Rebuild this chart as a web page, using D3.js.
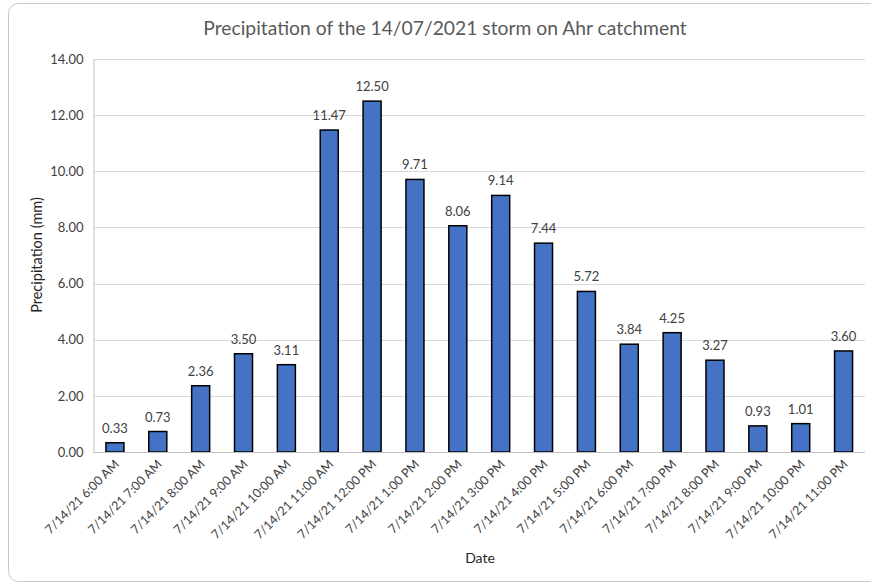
<!DOCTYPE html>
<html>
<head>
<meta charset="utf-8">
<script src="https://cdn.jsdelivr.net/npm/d3@7"></script>
<style>
  html, body { margin: 0; padding: 0; background: #fff; }
  svg { display: block; font-family: Lato, "Noto Sans", sans-serif; }
</style>
</head>
<body>
<svg id="chart" width="871" height="584"></svg>
<script>
// Hourly precipitation, 14 July 2021, Ahr catchment
const hours = [
  "7/14/21 6:00 AM", "7/14/21 7:00 AM", "7/14/21 8:00 AM", "7/14/21 9:00 AM",
  "7/14/21 10:00 AM", "7/14/21 11:00 AM", "7/14/21 12:00 PM", "7/14/21 1:00 PM",
  "7/14/21 2:00 PM", "7/14/21 3:00 PM", "7/14/21 4:00 PM", "7/14/21 5:00 PM",
  "7/14/21 6:00 PM", "7/14/21 7:00 PM", "7/14/21 8:00 PM", "7/14/21 9:00 PM",
  "7/14/21 10:00 PM", "7/14/21 11:00 PM"
];
const precipitation = [
  0.33, 0.73, 2.36, 3.50, 3.11, 11.47, 12.50, 9.71, 8.06,
  9.14, 7.44, 5.72, 3.84, 4.25, 3.27, 0.93, 1.01, 3.60
];
const yTicks = [0, 2, 4, 6, 8, 10, 12, 14];

const titleText = "Precipitation of the 14/07/2021 storm on Ahr catchment";
const xTitle = "Date";
const yTitle = "Precipitation (mm)";

const svg = d3.select("#chart");

// chart frame
svg.append("rect")
  .attr("x", 8.5).attr("y", 3.5)
  .attr("width", 880).attr("height", 578)
  .attr("rx", 10).attr("ry", 10)
  .attr("fill", "#fff")
  .attr("stroke", "#c8c8c8")
  .attr("stroke-width", 1);

const plot = { left: 93.5, right: 865, top: 59, bottom: 452 };

const x = d3.scaleBand()
  .domain(hours)
  .range([plot.left, plot.right])
  .paddingInner(0.58)
  .paddingOuter(0.29);

const y = d3.scaleLinear()
  .domain([0, 14])
  .range([plot.bottom, plot.top]);

// horizontal gridlines
svg.append("g")
  .selectAll("line")
  .data(yTicks)
  .join("line")
  .attr("x1", plot.left).attr("x2", plot.right)
  .attr("y1", d => Math.round(y(d)) + 0.5)
  .attr("y2", d => Math.round(y(d)) + 0.5)
  .attr("stroke", "#d9d9d9")
  .attr("stroke-width", 1);

// y axis
const yAxis = svg.append("g")
  .attr("transform", `translate(${plot.left},0)`)
  .call(d3.axisLeft(y).tickValues(yTicks).tickFormat(d3.format(".2f")).tickSize(0).tickPadding(10));
yAxis.select(".domain").attr("stroke", "#bfbfbf");
yAxis.selectAll("text")
  .attr("font-size", 13)
  .attr("fill", "#404040")
  .attr("font-family", "Lato, 'Noto Sans', sans-serif");

// bars
svg.append("g")
  .selectAll("rect")
  .data(precipitation)
  .join("rect")
  .attr("x", (d, i) => x(hours[i]))
  .attr("y", d => y(d))
  .attr("width", x.bandwidth())
  .attr("height", d => y(0) - y(d))
  .attr("fill", "#4472c4")
  .attr("stroke", "#000")
  .attr("stroke-width", 1.5);

// baseline
svg.append("line")
  .attr("x1", plot.left).attr("x2", plot.right)
  .attr("y1", Math.round(y(0)) + 0.5).attr("y2", Math.round(y(0)) + 0.5)
  .attr("stroke", "#bfbfbf");

// value labels
svg.append("g")
  .selectAll("text")
  .data(precipitation)
  .join("text")
  .attr("x", (d, i) => x(hours[i]) + x.bandwidth() / 2)
  .attr("y", d => y(d) - 10)
  .attr("text-anchor", "middle")
  .attr("font-size", 13)
  .attr("fill", "#404040")
  .text(d => d.toFixed(2));

// x axis labels (rotated)
const xAxis = svg.append("g")
  .attr("transform", `translate(0,${plot.bottom})`)
  .call(d3.axisBottom(x).tickSize(0).tickPadding(0));
xAxis.select(".domain").remove();
xAxis.selectAll("text")
  .attr("font-size", 12.5)
  .attr("fill", "#404040")
  .attr("font-family", "Lato, 'Noto Sans', sans-serif")
  .attr("text-anchor", "end")
  .attr("dy", 0)
  .attr("transform", "translate(5,13) rotate(-45)");

// title
svg.append("text")
  .attr("x", 445).attr("y", 35)
  .attr("text-anchor", "middle")
  .attr("font-size", 19.3)
  .attr("fill", "#595959")
  .text(titleText);

// axis titles
svg.append("text")
  .attr("x", 480).attr("y", 563)
  .attr("text-anchor", "middle")
  .attr("font-size", 14)
  .attr("fill", "#262626")
  .text(xTitle);

svg.append("text")
  .attr("transform", "translate(42,255) rotate(-90)")
  .attr("text-anchor", "middle")
  .attr("font-size", 14.5)
  .attr("fill", "#262626")
  .text(yTitle);
</script>
</body>
</html>
